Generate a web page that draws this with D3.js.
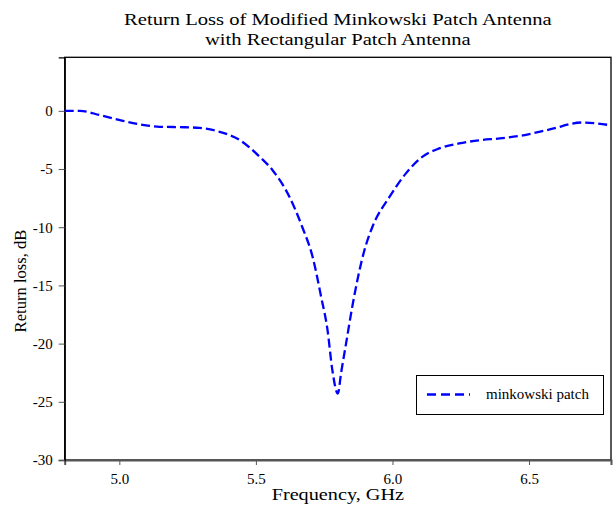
<!DOCTYPE html>
<html><head><meta charset="utf-8">
<script src="https://cdn.jsdelivr.net/npm/d3@7"></script>
<style>body{margin:0;background:#fff}svg{display:block}svg text{font-family:"Times New Roman","Liberation Serif",Times,serif !important}</style>
</head><body>
<script>
const titleLines = ["Return Loss of Modified Minkowski Patch Antenna", "with Rectangular Patch Antenna"];
const xLabel = "Frequency, GHz";
const yLabel = "Return loss, dB";
const seriesName = "minkowski patch";
const xTicks = [5.0, 5.5, 6.0, 6.5];
const yTicks = [0, -5, -10, -15, -20, -25, -30];
const freq = [4.80, 4.856, 4.929, 5.002, 5.075, 5.148, 5.221, 5.294, 5.367, 5.440, 5.514, 5.561, 5.623, 5.670, 5.707, 5.739, 5.762, 5.780, 5.800, 5.812, 5.830, 5.853, 5.897, 5.926, 5.989, 6.050, 6.109, 6.171, 6.244, 6.320, 6.393, 6.466, 6.576, 6.694, 6.796];
const returnLoss = [0, 0, -0.37, -0.8, -1.17, -1.37, -1.4, -1.46, -1.8, -2.5, -3.95, -5.1, -7.4, -10, -12.5, -16, -18.8, -22.3, -24.3, -22.5, -20, -16.8, -12, -10, -7.4, -5.35, -3.95, -3.23, -2.8, -2.52, -2.37, -2.15, -1.6, -1.0, -1.23];

const W = 615, H = 509;
const m = {left: 64.7, right: 4, top: 57.3, bottom: 49};
const svg = d3.select("body").append("svg").attr("width", W).attr("height", H);
const x = d3.scaleLinear().domain([4.8, 6.8]).range([m.left, W - m.right]);
const y = d3.scaleLinear().domain([-30, 4.6]).range([H - m.bottom, m.top]);
const cx = (m.left + W - m.right) / 2;

// title
svg.append("text").attr("transform", `translate(${cx},25) scale(1.17,1)`).attr("text-anchor", "middle")
  .attr("font-size", 17.6).text(titleLines[0]);
svg.append("text").attr("transform", `translate(${cx},44.5) scale(1.17,1)`).attr("text-anchor", "middle")
  .attr("font-size", 17.6).text(titleLines[1]);

// frame
svg.append("rect").attr("x", m.left).attr("y", m.top).attr("width", W - m.right - m.left)
  .attr("height", H - m.bottom - m.top).attr("fill", "none").attr("stroke", "#000").attr("stroke-width", 1.3);

// axes
const fmt = d => String(d);
const xa = svg.append("g").attr("transform", `translate(0,${H - m.bottom})`)
  .call(d3.axisBottom(x).tickValues(xTicks).tickFormat(d3.format(".1f")).tickSize(5).tickPadding(8));
xa.select(".domain").attr("stroke", "#555").attr("stroke-width", 2);
xa.selectAll(".tick line").attr("stroke", "#555");
xa.selectAll("text").attr("font-size", 15).attr("fill", "#000");

const ya = svg.append("g").attr("transform", `translate(${m.left},0)`)
  .call(d3.axisLeft(y).tickValues(yTicks).tickFormat(fmt).tickSize(6).tickPadding(6));
ya.select(".domain").attr("stroke", "#000").attr("stroke-width", 1.3);
ya.selectAll(".tick line").attr("stroke", "#555");
ya.selectAll("text").attr("font-size", 15).attr("fill", "#000");

// axis labels
svg.append("text").attr("transform", `translate(${cx},500) scale(1.22,1)`).attr("text-anchor", "middle")
  .attr("font-size", 16.6).text(xLabel);
svg.append("text").attr("transform", "translate(26,281) rotate(-90)").attr("text-anchor", "middle")
  .attr("font-size", 16.6).text(yLabel);

// line
const data = freq.map((f, i) => [f, returnLoss[i]]);
svg.append("path").datum(data)
  .attr("fill", "none").attr("stroke", "#0000ff").attr("stroke-width", 2.3)
  .attr("stroke-dasharray", "9,4")
  .attr("d", d3.line().x(d => x(d[0])).y(d => y(d[1])).curve(d3.curveMonotoneX));

// legend
const lg = svg.append("g");
lg.append("rect").attr("x", 416.5).attr("y", 375.5).attr("width", 187).attr("height", 39)
  .attr("fill", "#fff").attr("stroke", "#000").attr("stroke-width", 1);
lg.append("line").attr("x1", 427).attr("x2", 470).attr("y1", 394.5).attr("y2", 394.5)
  .attr("stroke", "#0000ff").attr("stroke-width", 2.3).attr("stroke-dasharray", "9,5");
lg.append("text").attr("x", 486).attr("y", 399).attr("font-size", 15).text(seriesName);
</script>
</body></html>
